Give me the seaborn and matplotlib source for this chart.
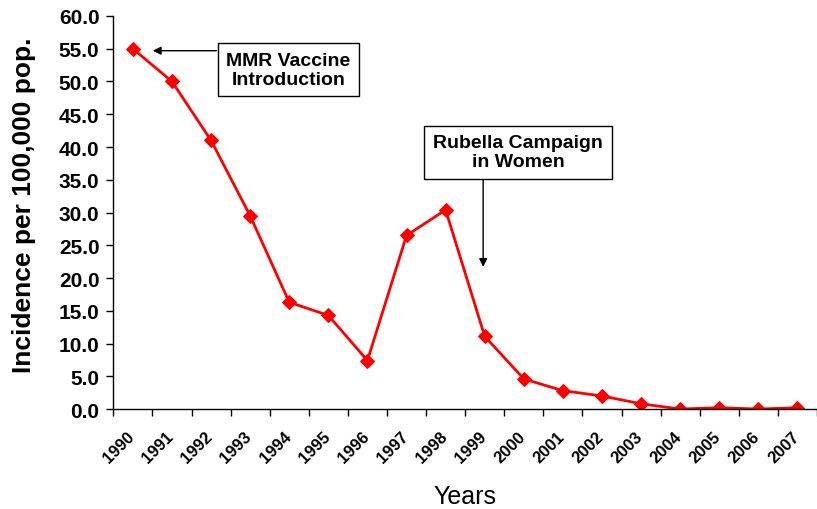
import numpy as np
import pandas as pd
import seaborn as sns
from matplotlib import pyplot as plt
from matplotlib.transforms import ScaledTranslation

# Measles incidence per 100,000 population
years = ['1990', '1991', '1992', '1993', '1994', '1995', '1996', '1997', '1998',
         '1999', '2000', '2001', '2002', '2003', '2004', '2005', '2006', '2007']
incidence = [55.0, 50.0, 41.0, 29.5, 16.3, 14.3, 7.4, 26.5, 30.4,
             11.1, 4.6, 2.8, 2.0, 0.8, 0.0, 0.2, 0.0, 0.2]
y_ticks = [0, 5, 10, 15, 20, 25, 30, 35, 40, 45, 50, 55, 60]

sns.set_style('ticks')
plt.rcParams['font.family'] = ['Liberation Sans', 'DejaVu Sans']
plt.rcParams['text.color'] = 'black'
plt.rcParams['axes.labelcolor'] = 'black'
plt.rcParams['xtick.color'] = 'black'
plt.rcParams['ytick.color'] = 'black'

df = pd.DataFrame({'year': years, 'pos': np.arange(len(years)), 'incidence': incidence})

fig = plt.figure(figsize=(8.17, 5.10), dpi=100)
ax = fig.add_axes([0.1387, 0.196, 0.8613, 0.7707])

sns.lineplot(data=df, x='pos', y='incidence', ax=ax, color='#ff0000', lw=2,
             marker='D', markersize=7, markeredgecolor='#ff0000')

ax.set_xlim(-0.5, 17.4)
ax.set_ylim(0, 60)
ax.set_yticks(y_ticks)
ax.set_yticklabels([f'{v:.1f}' for v in y_ticks], fontsize=15, fontweight='bold')

# labels at category centres, tick marks between categories
ax.set_xticks(df['pos'])
ax.set_xticklabels(years, rotation=45, ha='right', rotation_mode='anchor',
                   fontsize=12, fontweight='bold')
ax.set_xticks(np.arange(-0.5, len(years), 1.0), minor=True)
ax.tick_params(axis='x', which='major', length=0, pad=14)
ax.tick_params(axis='x', which='minor', length=5, width=1, direction='out')
ax.tick_params(axis='y', length=5, width=1, direction='out', pad=5)

# nudge the rotated year labels a little to the left (after tick_params)
shift = ScaledTranslation(-6 / 100, 0, fig.dpi_scale_trans)
for lab in ax.get_xticklabels():
    lab.set_transform(lab.get_transform() + shift)

for side in ['top', 'right']:
    ax.spines[side].set_visible(False)
for side in ['left', 'bottom']:
    ax.spines[side].set_color('black')
    ax.spines[side].set_linewidth(1)

ax.set_xlabel('Years', fontsize=18)
ax.xaxis.set_label_coords(0.5, -0.19)
ax.set_ylabel('Incidence per 100,000 pop.', fontsize=19, fontweight='bold')
ax.yaxis.set_label_coords(-0.11, 0.52)

box = dict(boxstyle='square,pad=0.45', facecolor='white', edgecolor='black', lw=1)
arrow = dict(arrowstyle='-|>', color='black', lw=1, mutation_scale=12, shrinkA=0, shrinkB=0)

ax.text(3.98, 51.8, 'MMR Vaccine\nIntroduction', ha='center', va='center',
        fontsize=14, fontweight='bold', bbox=box, linespacing=1.15)
ax.annotate('', xy=(0.51, 54.7), xytext=(2.14, 54.7), arrowprops=arrow)

ax.text(9.85, 39.2, 'Rubella Campaign\nin Women', ha='center', va='center',
        fontsize=14, fontweight='bold', bbox=box, linespacing=1.15)
ax.annotate('', xy=(8.96, 21.7), xytext=(8.96, 35.0), arrowprops=arrow)

fig.savefig('out.png', dpi=100)
